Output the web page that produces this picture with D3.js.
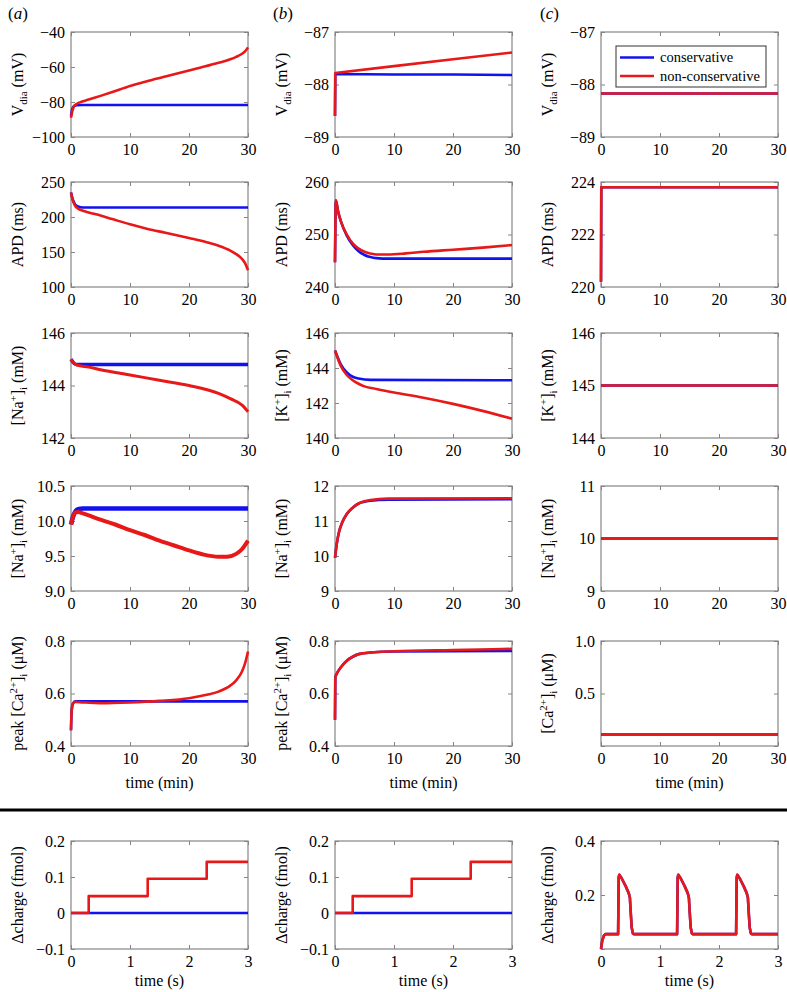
<!DOCTYPE html>
<html><head><meta charset="utf-8">
<script src="https://cdn.jsdelivr.net/npm/d3@7"></script>
<style>body{margin:0;background:#fff}svg{display:block}svg text{font-family:"Liberation Serif","Tinos","Times New Roman","DejaVu Serif",serif !important;fill:#000}</style>
</head><body>
<svg id="c" width="787" height="992"></svg>
<script>
// ---------- DATA ----------
const timeMinTicks = [0, 10, 20, 30];
const timeMinLabels = ["0", "10", "20", "30"];
const timeSecTicks = [0, 1, 2, 3];
const timeSecLabels = ["0", "1", "2", "3"];
const seriesNames = ["conservative", "non-conservative"];

// column (a)
const aVdiaConsT = [0, 0.2, 0.5, 1, 2, 30];
const aVdiaConsV = [-88, -84, -82.3, -81.8, -81.7, -81.7];
const aVdiaNonT = [0, 0.2, 0.5, 1, 1.5, 3, 5, 7, 10, 13, 16, 19, 22, 25, 27, 28, 29, 29.5, 30];
const aVdiaNonV = [-89, -85.5, -82.5, -81, -80.2, -78.6, -76.5, -74.3, -70.8, -68, -65.4, -62.9, -60.3, -57.6, -55.6, -54.2, -52.4, -51.1, -48.8];
const aApdConsT = [0, 0.3, 0.7, 1.2, 2, 30];
const aApdConsV = [235, 225, 218, 215, 213.5, 213.5];
const aApdNonT = [0, 0.3, 0.7, 1.2, 2, 3, 5, 7, 10, 13, 16, 20, 23, 25, 27, 28, 29, 29.5, 30];
const aApdNonV = [235, 224, 216, 212, 209, 206.5, 202, 197, 189.5, 183, 177.5, 170, 164, 159, 152, 147, 140, 134, 124];
const aNaConsT = [0, 0.5, 1, 30];
const aNaConsV = [145, 144.85, 144.8, 144.8];
const aNaNonT = [0, 0.5, 1, 3, 5, 10, 15, 20, 25, 27, 29, 30];
const aNaNonV = [145, 144.85, 144.78, 144.7, 144.6, 144.4, 144.2, 144.0, 143.7, 143.5, 143.25, 143.0];
const aNa2ConsT = [0, 0.3, 0.7, 1.2, 2, 30];
const aNa2ConsV = [9.95, 10.05, 10.13, 10.17, 10.18, 10.18];
const aNa2NonT = [0, 0.3, 0.7, 1.2, 2, 3, 5, 7.5, 10, 12.5, 15, 17.5, 20, 22.5, 25, 26.5, 28, 29, 30];
const aNa2NonV = [9.95, 10.05, 10.12, 10.13, 10.11, 10.08, 10.02, 9.95, 9.87, 9.8, 9.72, 9.65, 9.58, 9.52, 9.49, 9.49, 9.53, 9.6, 9.72];
const aCaConsT = [0, 0.1, 0.3, 0.7, 30];
const aCaConsV = [0.46, 0.53, 0.56, 0.57, 0.57];
const aCaNonT = [0, 0.1, 0.3, 0.7, 2, 5, 10, 15, 20, 23, 25, 27, 28, 29, 29.5, 30];
const aCaNonV = [0.46, 0.53, 0.56, 0.568, 0.566, 0.563, 0.566, 0.572, 0.582, 0.595, 0.607, 0.63, 0.65, 0.685, 0.715, 0.76];

// column (b)
const bVdiaConsT = [0, 0.05, 10, 20, 30];
const bVdiaConsV = [-88.6, -87.8, -87.81, -87.81, -87.82];
const bVdiaNonT = [0, 0.05, 10, 20, 30];
const bVdiaNonV = [-88.6, -87.78, -87.65, -87.52, -87.39];
const bApdConsT = [0, 0.15, 0.5, 1, 2, 3, 4, 5, 6, 7, 9, 30];
const bApdConsV = [244.7, 256.5, 254.5, 252.5, 249.8, 248, 246.8, 246.1, 245.7, 245.5, 245.4, 245.4];
const bApdNonT = [0, 0.15, 0.5, 1, 2, 3, 4, 5, 6, 7, 9, 12, 15, 20, 25, 30];
const bApdNonV = [244.7, 256.5, 254.5, 252.5, 250, 248.3, 247.3, 246.7, 246.4, 246.2, 246.2, 246.4, 246.7, 247.1, 247.5, 248];
const bKConsT = [0, 1, 2, 3, 4, 6, 30];
const bKConsV = [145, 144.2, 143.75, 143.5, 143.4, 143.32, 143.3];
const bKNonT = [0, 1, 2, 3, 4, 5, 7, 10, 15, 20, 25, 30];
const bKNonV = [145, 144.1, 143.6, 143.3, 143.1, 142.95, 142.8, 142.6, 142.3, 141.95, 141.55, 141.1];
const bNaConsT = [0, 0.3, 0.7, 1.2, 2, 3, 4, 6, 9, 30];
const bNaConsV = [9.95, 10.35, 10.7, 10.95, 11.2, 11.38, 11.5, 11.58, 11.61, 11.62];
const bNaNonT = [0, 0.3, 0.7, 1.2, 2, 3, 4, 6, 9, 30];
const bNaNonV = [9.95, 10.35, 10.7, 10.95, 11.2, 11.38, 11.5, 11.6, 11.64, 11.65];
const bCaConsT = [0, 0.05, 0.3, 1, 2, 3, 4, 6, 10, 30];
const bCaConsV = [0.5, 0.66, 0.675, 0.7, 0.725, 0.74, 0.75, 0.756, 0.76, 0.762];
const bCaNonT = [0, 0.05, 0.3, 1, 2, 3, 4, 6, 10, 20, 30];
const bCaNonV = [0.5, 0.66, 0.675, 0.7, 0.725, 0.74, 0.75, 0.756, 0.761, 0.766, 0.77];

// column (c)
const cFlatT = [0, 30];
const cVdiaV = [-88.17, -88.17];
const cApdT = [0, 0.05, 30];
const cApdV = [220.2, 223.8, 223.8];
const cKV = [145, 145];
const cNaV = [10, 10];
const cCaV = [0.11, 0.11];

// bottom row: Δcharge vs time (s)
const qStepT = [0, 0.3, 1.3, 2.3, 3];
const qStepNonV = [0, 0.047, 0.095, 0.142, 0.142];
const qConsT = [0, 3];
const qConsV = [0, 0];
const qcT = [0, 0.02, 0.05, 0.08, 0.29, 0.3, 0.31, 0.35, 0.42, 0.47, 0.49, 0.5, 0.52, 0.54, 0.56,
             1.29, 1.3, 1.31, 1.35, 1.42, 1.47, 1.49, 1.5, 1.52, 1.54, 1.56,
             2.29, 2.3, 2.31, 2.35, 2.42, 2.47, 2.49, 2.5, 2.52, 2.54, 2.56, 3];
const qcV = [0, 0.03, 0.05, 0.055, 0.055, 0.265, 0.275, 0.262, 0.232, 0.207, 0.19, 0.15, 0.08, 0.058, 0.055,
             0.055, 0.265, 0.275, 0.262, 0.232, 0.207, 0.19, 0.15, 0.08, 0.058, 0.055,
             0.055, 0.265, 0.275, 0.262, 0.232, 0.207, 0.19, 0.15, 0.08, 0.058, 0.055, 0.055];

// y tick values / labels
const yt = {
  aV: [[-100, -80, -60, -40], ["−100", "−80", "−60", "−40"]],
  aA: [[100, 150, 200, 250], ["100", "150", "200", "250"]],
  aN: [[142, 144, 146], ["142", "144", "146"]],
  aN2: [[9, 9.5, 10, 10.5], ["9.0", "9.5", "10.0", "10.5"]],
  aC: [[0.4, 0.6, 0.8], ["0.4", "0.6", "0.8"]],
  bV: [[-89, -88, -87], ["−89", "−88", "−87"]],
  bA: [[240, 250, 260], ["240", "250", "260"]],
  bK: [[140, 142, 144, 146], ["140", "142", "144", "146"]],
  bN: [[9, 10, 11, 12], ["9", "10", "11", "12"]],
  bC: [[0.4, 0.6, 0.8], ["0.4", "0.6", "0.8"]],
  cV: [[-89, -88, -87], ["−89", "−88", "−87"]],
  cA: [[220, 222, 224], ["220", "222", "224"]],
  cK: [[144, 145, 146], ["144", "145", "146"]],
  cN: [[9, 10, 11], ["9", "10", "11"]],
  cC: [[0, 0.5, 1.0], ["", "0.5", "1.0"]],
  qa: [[-0.1, 0, 0.1, 0.2], ["−0.1", "0", "0.1", "0.2"]],
  qc: [[0, 0.2, 0.4], ["", "0.2", "0.4"]]
};

// ---------- LAYOUT ----------
const FONT = '"Liberation Serif","Tinos","Times New Roman","DejaVu Serif",serif';
const svg = d3.select("#c");
const colX = [71, 335, 601], PW = 177;
const rowY = [32, 182, 333, 486, 641], PH = 105;
const row6Y = 841, PH6 = 108;
const BLUE = "#1212ee", RED = "#e81818";

const L = {
  vdia: [["V",0],["dia",-1],[" (mV)",0]],
  apd: [["APD (ms)",0]],
  na: [["[Na",0],["+",1],["]",0],["i",-1],[" (mM)",0]],
  k: [["[K",0],["+",1],["]",0],["i",-1],[" (mM)",0]],
  pca: [["peak [Ca",0],["2+",1],["]",0],["i",-1],[" (μM)",0]],
  ca: [["[Ca",0],["2+",1],["]",0],["i",-1],[" (μM)",0]],
  q: [["Δcharge (fmol)",0]]
};

const panels = [
  {c:0,r:0,y:[-100,-40],t:yt.aV,lab:L.vdia,s:[[aVdiaConsT,aVdiaConsV],[aVdiaNonT,aVdiaNonV]]},
  {c:0,r:1,y:[100,250],t:yt.aA,lab:L.apd,s:[[aApdConsT,aApdConsV],[aApdNonT,aApdNonV]]},
  {c:0,r:2,y:[142,146],t:yt.aN,lab:L.na,s:[[aNaConsT,aNaConsV],[aNaNonT,aNaNonV]],w:[3.5,3]},
  {c:0,r:3,y:[9,10.5],t:yt.aN2,lab:L.na,s:[[aNa2ConsT,aNa2ConsV],[aNa2NonT,aNa2NonV]],w:[4.5,4]},
  {c:0,r:4,y:[0.4,0.8],t:yt.aC,lab:L.pca,s:[[aCaConsT,aCaConsV],[aCaNonT,aCaNonV]],xl:true},
  {c:1,r:0,y:[-89,-87],t:yt.bV,lab:L.vdia,s:[[bVdiaConsT,bVdiaConsV],[bVdiaNonT,bVdiaNonV]],lin:true},
  {c:1,r:1,y:[240,260],t:yt.bA,lab:L.apd,s:[[bApdConsT,bApdConsV],[bApdNonT,bApdNonV]]},
  {c:1,r:2,y:[140,146],t:yt.bK,lab:L.k,s:[[bKConsT,bKConsV],[bKNonT,bKNonV]]},
  {c:1,r:3,y:[9,12],t:yt.bN,lab:L.na,s:[[bNaConsT,bNaConsV],[bNaNonT,bNaNonV]]},
  {c:1,r:4,y:[0.4,0.8],t:yt.bC,lab:L.pca,s:[[bCaConsT,bCaConsV],[bCaNonT,bCaNonV]],xl:true},
  {c:2,r:0,y:[-89,-87],t:yt.cV,lab:L.vdia,s:[[cFlatT,cVdiaV],[cFlatT,cVdiaV]],legend:true},
  {c:2,r:1,y:[220,224],t:yt.cA,lab:L.apd,s:[[cApdT,cApdV],[cApdT,cApdV]],lin:true},
  {c:2,r:2,y:[144,146],t:yt.cK,lab:L.k,s:[[cFlatT,cKV],[cFlatT,cKV]]},
  {c:2,r:3,y:[9,11],t:yt.cN,lab:L.na,s:[[cFlatT,cNaV],[cFlatT,cNaV]]},
  {c:2,r:4,y:[0,1],t:yt.cC,lab:L.ca,s:[[cFlatT,cCaV],[cFlatT,cCaV]],xl:true},
  {c:0,r:5,y:[-0.1,0.2],t:yt.qa,lab:L.q,s:[[qConsT,qConsV],[qStepT,qStepNonV]],step:true},
  {c:1,r:5,y:[-0.1,0.2],t:yt.qa,lab:L.q,s:[[qConsT,qConsV],[qStepT,qStepNonV]],step:true},
  {c:2,r:5,y:[0,0.4],t:yt.qc,lab:L.q,s:[[qcT,qcV],[qcT,qcV]],lin:true}
];

const FS = 16;
function drawLabel(g, parts, x, y, rotate, anchor) {
  const t = g.append("text").attr("transform", `translate(${x},${y})` + (rotate ? " rotate(-90)" : ""))
    .attr("text-anchor", anchor || "middle").attr("font-size", FS).attr("font-family", FONT);
  let cur = 0;
  parts.forEach(([s, k]) => {
    const target = k === 1 ? -6 : (k === -1 ? 4 : 0);
    const ts = t.append("tspan").text(s).attr("dy", target - cur);
    if (k !== 0) ts.attr("font-size", FS * 0.68);
    cur = target;
  });
}

panels.forEach(p => {
  const x0 = colX[p.c];
  const y0 = p.r < 5 ? rowY[p.r] : row6Y;
  const ph = p.r < 5 ? PH : PH6;
  const isQ = p.r === 5;
  const x = d3.scaleLinear().domain(isQ ? [0, 3] : [0, 30]).range([x0, x0 + PW]);
  const y = d3.scaleLinear().domain(p.y).range([y0 + ph, y0]);
  const g = svg.append("g");
  const xt = isQ ? timeSecTicks : timeMinTicks, xlab = isQ ? timeSecLabels : timeMinLabels;

  g.append("rect").attr("x", x0).attr("y", y0).attr("width", PW).attr("height", ph)
    .attr("fill", "none").attr("stroke", "#858585").attr("stroke-width", 1.2);

  const style = sel => { sel.select(".domain").remove();
    sel.attr("font-family", FONT).attr("font-size", FS);
    sel.selectAll("line").attr("stroke", "#858585").attr("stroke-width", 1);
    sel.selectAll("text").attr("font-size", FS).attr("font-family", FONT).attr("fill", "#000"); };

  g.append("g").attr("transform", `translate(${x0},0)`)
    .call(d3.axisLeft(y).tickValues(p.t[0]).tickFormat((d, i) => p.t[1][i]).tickSizeInner(-4).tickSizeOuter(0).tickPadding(6)).call(style);
  g.append("g").attr("transform", `translate(${x0 + PW},0)`)
    .call(d3.axisRight(y).tickValues(p.t[0]).tickFormat("").tickSizeInner(-4).tickSizeOuter(0)).call(style);
  g.append("g").attr("transform", `translate(0,${y0 + ph})`)
    .call(d3.axisBottom(x).tickValues(xt).tickFormat((d, i) => xlab[i]).tickSizeInner(-4).tickSizeOuter(0).tickPadding(7)).call(style);
  g.append("g").attr("transform", `translate(0,${y0})`)
    .call(d3.axisTop(x).tickValues(xt).tickFormat("").tickSizeInner(-4).tickSizeOuter(0)).call(style);

  const colors = [BLUE, RED];
  const widths = p.w || [2.6, 2.6];
  p.s.forEach(([ts, vs], k) => {
    const pts = ts.map((t, i) => [t, vs[i]]);
    const line = d3.line().x(d => x(d[0])).y(d => y(d[1]))
      .curve(p.step ? d3.curveStepAfter : (p.lin ? d3.curveLinear : d3.curveMonotoneX));
    g.append("path").attr("d", line(pts)).attr("fill", "none").attr("stroke", colors[k])
      .attr("stroke-width", widths[k]).attr("stroke-linejoin", "round");
  });

  drawLabel(g, p.lab, x0 - 48, y0 + ph / 2, true);
  if (p.xl) drawLabel(g, [["time (min)", 0]], x0 + PW / 2, y0 + ph + 42, false);
  if (isQ) drawLabel(g, [["time (s)", 0]], x0 + PW / 2, y0 + ph + 37, false);

  if (p.legend) {
    const lx = 616, ly = 46;
    const lg = g.append("g");
    lg.append("rect").attr("x", lx).attr("y", ly).attr("width", 150).attr("height", 41)
      .attr("fill", "#fff").attr("stroke", "#333").attr("stroke-width", 1);
    seriesNames.forEach((n, i) => {
      const yy = ly + 11.5 + i * 18.5;
      lg.append("line").attr("x1", lx + 4).attr("x2", lx + 38).attr("y1", yy).attr("y2", yy)
        .attr("stroke", colors[i]).attr("stroke-width", 2.6);
      lg.append("text").attr("x", lx + 44).attr("y", yy + 4.5).attr("font-size", 14.5).attr("font-family", FONT).text(n);
    });
  }
});

// panel letters
[["a", 8], ["b", 273], ["c", 540]].forEach(([l, px]) => {
  const t = svg.append("text").attr("x", px).attr("y", 19).attr("font-size", 17).attr("font-family", FONT);
  t.append("tspan").text("(");
  t.append("tspan").text(l).attr("font-style", "italic");
  t.append("tspan").text(")");
});

// separator line
svg.append("line").attr("x1", 0).attr("x2", 787).attr("y1", 810).attr("y2", 810)
  .attr("stroke", "#000").attr("stroke-width", 3);
</script>
</body></html>
